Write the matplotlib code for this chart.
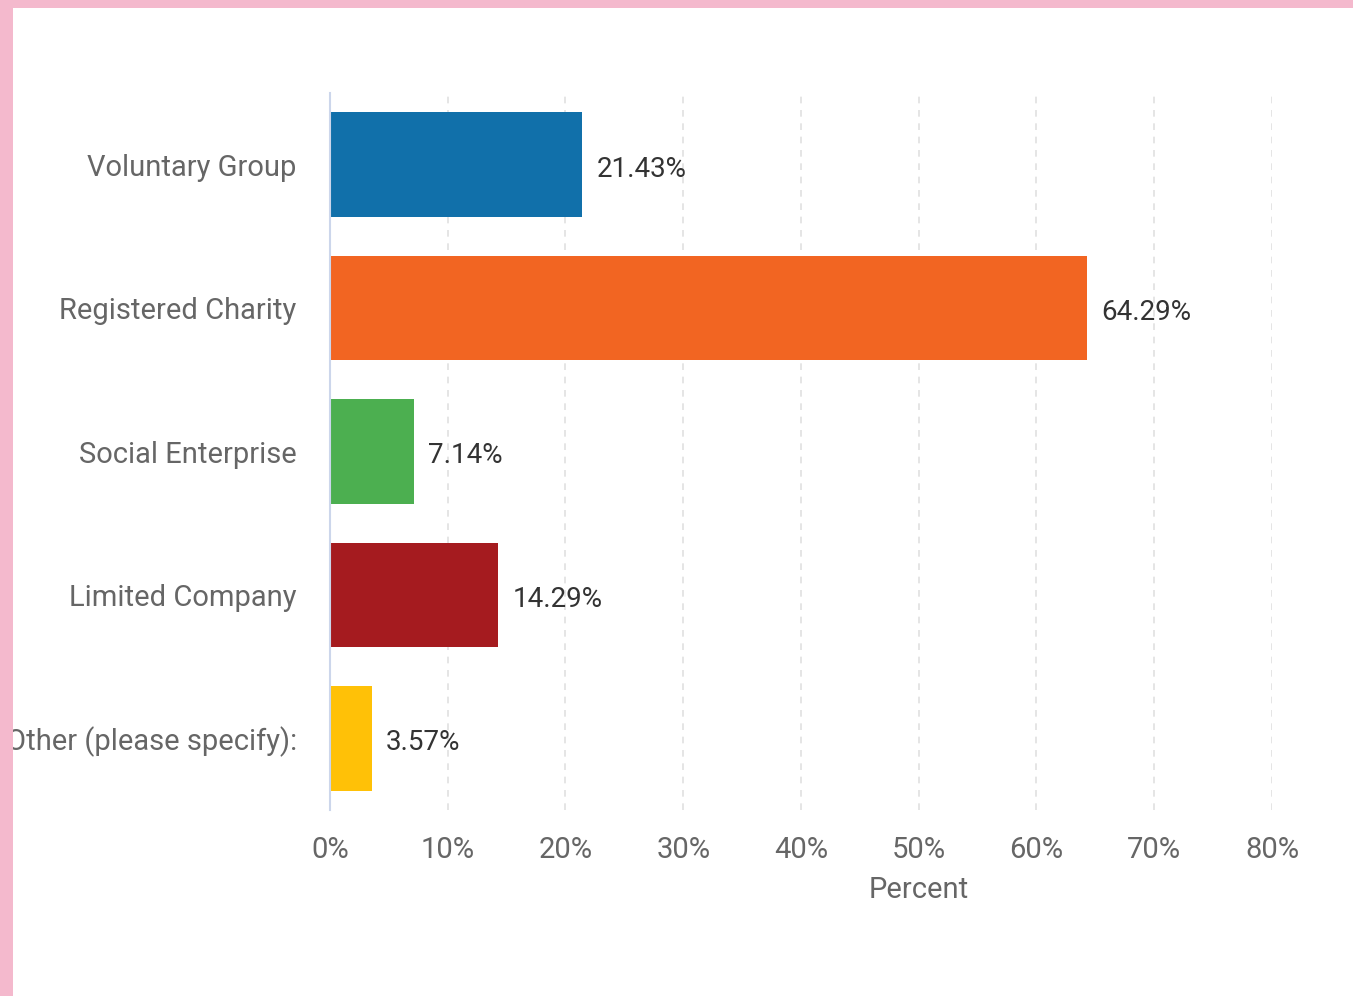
import matplotlib.pyplot as plt
from matplotlib.patches import Rectangle
from matplotlib.ticker import FuncFormatter, MultipleLocator

# survey answers
categories = [
    "Voluntary Group",
    "Registered Charity",
    "Social Enterprise",
    "Limited Company",
    "Other (please specify):",
]
percents = [21.43, 64.29, 7.14, 14.29, 3.57]
bar_colors = ["#1170aa", "#f26522", "#4caf50", "#a51b1f", "#ffc107"]

PINK = "#f4b9cd"
TICK_GREY = "#666666"
LABEL_DARK = "#333333"

plt.rcParams["font.family"] = ["Roboto", "DejaVu Sans"]

fig = plt.figure(figsize=(13.53, 9.96), dpi=100)
ax = fig.add_axes([0.2439, 0.1867, 0.9401 - 0.2439, 0.9066 - 0.1867])

pos = list(range(len(categories)))
ax.barh(pos, percents, height=0.73, color=bar_colors, zorder=2)

for y, v in zip(pos, percents):
    ax.text(v + 1.2, y + 0.03, f"{v:.2f}%", va="center", ha="left",
            fontsize=20, color=LABEL_DARK)

ax.set_xlim(0, 80)
ax.set_ylim(4.5, -0.5)
ax.xaxis.set_major_locator(MultipleLocator(10))
ax.xaxis.set_major_formatter(FuncFormatter(lambda x, _: f"{x:.0f}%"))
ax.set_yticks(pos)
ax.set_yticklabels(categories)

ax.grid(axis="x", linestyle=(0, (4, 4)), color="#e0e0e0", linewidth=1.2, zorder=0)
ax.grid(axis="y", visible=False)

for side in ["top", "right", "bottom"]:
    ax.spines[side].set_visible(False)
ax.spines["left"].set_color("#ccd6eb")
ax.spines["left"].set_linewidth(1.5)

ax.tick_params(axis="x", length=0, pad=19, labelsize=21, labelcolor=TICK_GREY)
ax.tick_params(axis="y", length=0, pad=24, labelsize=21, labelcolor=TICK_GREY)

# axis title sits at the middle of the full (wider) plot area, i.e. near 50%
ax.set_xlabel("Percent", fontsize=21, color=TICK_GREY)
ax.xaxis.label.set_verticalalignment("center")
ax.xaxis.set_label_coords(50 / 80, -80 / 717)

# pink page border, drawn above the axes so the long label is clipped
fig.patches.append(Rectangle((0, 0), 13 / 1353, 1, transform=fig.transFigure,
                             facecolor=PINK, edgecolor="none", zorder=10))
fig.patches.append(Rectangle((0, 1 - 8 / 996), 1, 8 / 996, transform=fig.transFigure,
                             facecolor=PINK, edgecolor="none", zorder=10))

fig.savefig("out.png", dpi=100)
